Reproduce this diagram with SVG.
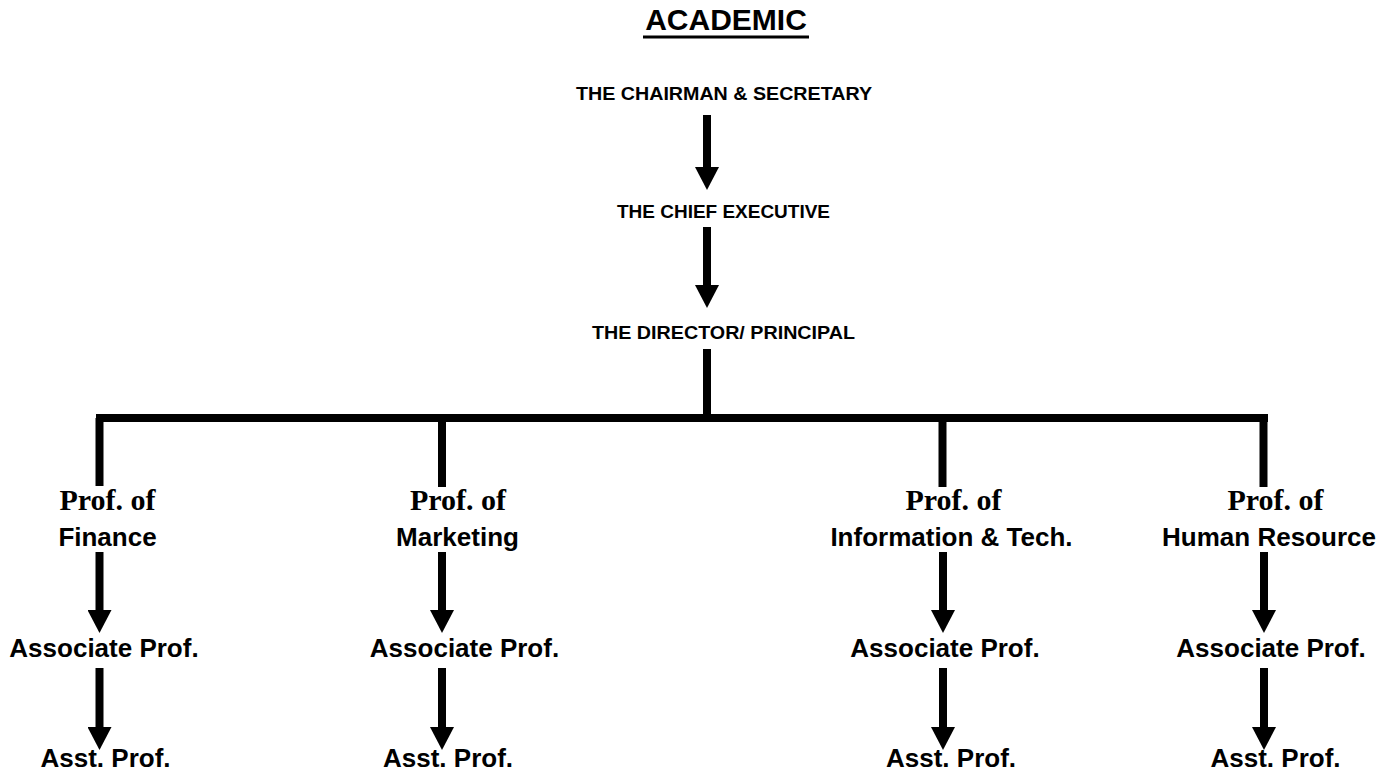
<svg xmlns="http://www.w3.org/2000/svg" width="1398" height="774" viewBox="0 0 1398 774">
<style>
  .sans { font-family: "Liberation Sans", Arial, sans-serif; font-weight: bold; fill: #000; text-anchor: middle; }
  .serif { font-family: "Liberation Serif", "Times New Roman", serif; font-weight: bold; fill: #000; text-anchor: middle; font-size: 30px; }
  .top { font-size: 19px; }
  .lbl { font-size: 26px; }
  .title { font-size: 30px; }
  .conn { stroke: #000; stroke-width: 8; fill: none; stroke-linecap: butt; }
  .arr { marker-end: url(#head); }
</style>
<defs>
  <marker id="head" markerUnits="userSpaceOnUse" markerWidth="23" markerHeight="24" viewBox="0 -12 23 24" refX="0" refY="0" orient="auto">
    <path d="M0,-12 L23,0 L0,12 Z" fill="#000"/>
  </marker>
</defs>
<rect width="1398" height="774" fill="#fff"/>

<g id="title">
  <text class="sans title" x="726" y="30">ACADEMIC</text>
  <rect x="643" y="35.5" width="166" height="3" fill="#000"/>
</g>

<g id="connectors">
  <line class="conn arr" x1="707" y1="115" x2="707" y2="167"/>
  <line class="conn arr" x1="707" y1="227" x2="707" y2="285"/>
  <line class="conn" x1="707" y1="349" x2="707" y2="418"/>
  <line class="conn" x1="96" y1="418" x2="1268" y2="418"/>
  <line class="conn" x1="99.5" y1="418" x2="99.5" y2="486"/>
  <line class="conn" x1="442" y1="418" x2="442" y2="487"/>
  <line class="conn" x1="942.5" y1="418" x2="942.5" y2="487"/>
  <line class="conn" x1="1263.5" y1="418" x2="1263.5" y2="487"/>
  <line class="conn arr" x1="99.5" y1="552" x2="99.5" y2="610"/>
  <line class="conn arr" x1="99.5" y1="668" x2="99.5" y2="727"/>
  <line class="conn arr" x1="442" y1="552" x2="442" y2="610"/>
  <line class="conn arr" x1="442" y1="668" x2="442" y2="727"/>
  <line class="conn arr" x1="943" y1="552" x2="943" y2="610"/>
  <line class="conn arr" x1="943" y1="668" x2="943" y2="727"/>
  <line class="conn arr" x1="1264" y1="552" x2="1264" y2="610"/>
  <line class="conn arr" x1="1264" y1="668" x2="1264" y2="727"/>
</g>

<g id="chairman"><text class="sans top" x="724" y="100" textLength="296" lengthAdjust="spacingAndGlyphs">THE CHAIRMAN &amp; SECRETARY</text></g>
<g id="chief"><text class="sans top" x="723.5" y="218" textLength="213" lengthAdjust="spacingAndGlyphs">THE CHIEF EXECUTIVE</text></g>
<g id="director"><text class="sans top" x="723.5" y="339" textLength="263" lengthAdjust="spacingAndGlyphs">THE DIRECTOR/ PRINCIPAL</text></g>

<g id="prof-finance">
  <text class="serif" x="107.5" y="510">Prof. of</text>
  <text class="sans lbl" x="107.5" y="546">Finance</text>
</g>
<g id="assoc-finance"><text class="sans lbl" x="104" y="657">Associate Prof.</text></g>
<g id="asst-finance"><text class="sans lbl" x="105.5" y="767">Asst. Prof.</text></g>

<g id="prof-marketing">
  <text class="serif" x="458" y="510">Prof. of</text>
  <text class="sans lbl" x="457.5" y="546">Marketing</text>
</g>
<g id="assoc-marketing"><text class="sans lbl" x="464.5" y="657">Associate Prof.</text></g>
<g id="asst-marketing"><text class="sans lbl" x="448" y="767">Asst. Prof.</text></g>

<g id="prof-it">
  <text class="serif" x="953.5" y="510">Prof. of</text>
  <text class="sans lbl" x="951.5" y="546">Information &amp; Tech.</text>
</g>
<g id="assoc-it"><text class="sans lbl" x="945" y="657">Associate Prof.</text></g>
<g id="asst-it"><text class="sans lbl" x="951" y="767">Asst. Prof.</text></g>

<g id="prof-hr">
  <text class="serif" x="1275.5" y="510">Prof. of</text>
  <text class="sans lbl" x="1269" y="546">Human Resource</text>
</g>
<g id="assoc-hr"><text class="sans lbl" x="1271" y="657">Associate Prof.</text></g>
<g id="asst-hr"><text class="sans lbl" x="1275.5" y="767">Asst. Prof.</text></g>
</svg>
